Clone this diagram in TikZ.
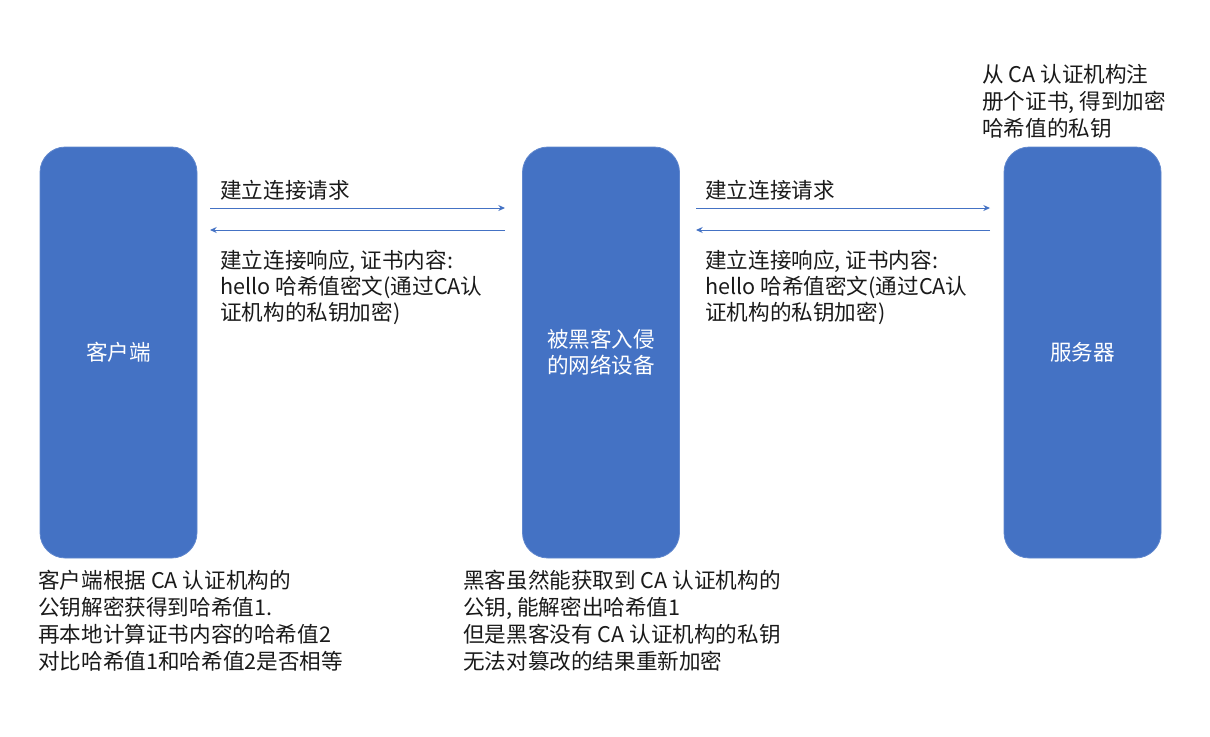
\documentclass[tikz,border=0pt]{standalone}
\usepackage{fontspec}
\setmainfont{Noto Sans CJK SC}
\usetikzlibrary{arrows.meta}
\definecolor{boxblue}{HTML}{4472C4}
\definecolor{txt}{HTML}{1A1A1A}
\tikzset{
  bigbox/.style={draw=boxblue!85!white, line width=0.6pt, fill=boxblue, rounded corners=19pt,
    minimum width=117.75pt, minimum height=308.25pt, inner sep=0pt,
    text=white, align=center, font=\fontsize{16.2pt}{19.5pt}\selectfont},
  lbl/.style={anchor=north west, inner sep=0pt, align=left, text=txt,
    font=\fontsize{16.2pt}{19.3pt}\selectfont},
  lbl2/.style={lbl, font=\fontsize{16.2pt}{20.1pt}\selectfont},
  conn/.style={draw=boxblue, line width=0.75pt, -{Stealth[length=5pt,width=4.5pt]}}
}
\begin{document}
\begin{tikzpicture}[x=0.75pt,y=-0.75pt]
\useasboundingbox (0,0) rectangle (1210,736);
\node[bigbox] (client) at (118.5,352.5) {客户端};
\node[bigbox] (mid) at (601,352.5) {被黑客入侵\\的网络设备};
\node[bigbox] (server) at (1082.5,352.5) {服务器};

\coordinate (a1s) at (210,208); \coordinate (a1e) at (505,208);
\coordinate (a2s) at (505,230); \coordinate (a2e) at (210,230);
\coordinate (b1s) at (696,208); \coordinate (b1e) at (990,208);
\coordinate (b2s) at (990,230); \coordinate (b2e) at (696,230);
\draw[conn] (a1s) -- (a1e);
\draw[conn] (a2s) -- (a2e);
\draw[conn] (b1s) -- (b1e);
\draw[conn] (b2s) -- (b2e);

\node[lbl] (req1) at (220,180) {建立连接请求};
\node[lbl] (req2) at (705,180) {建立连接请求};
\node[lbl] (resp1) at (220,250) {建立连接响应, 证书内容:\\hello 哈希值密文(通过CA认\\证机构的私钥加密)};
\node[lbl] (resp2) at (705,250) {建立连接响应, 证书内容:\\hello 哈希值密文(通过CA认\\证机构的私钥加密)};
\node[lbl2] (srvnote) at (982,64) {从 CA 认证机构注\\册个证书, 得到加密\\哈希值的私钥};
\node[lbl2] (clinote) at (38,570) {客户端根据 CA 认证机构的\\公钥解密获得到哈希值1.\\再本地计算证书内容的哈希值2\\对比哈希值1和哈希值2是否相等};
\node[lbl2] (midnote) at (463,570) {黑客虽然能获取到 CA 认证机构的\\公钥, 能解密出哈希值1\\但是黑客没有 CA 认证机构的私钥\\无法对篡改的结果重新加密};
\end{tikzpicture}
\end{document}
